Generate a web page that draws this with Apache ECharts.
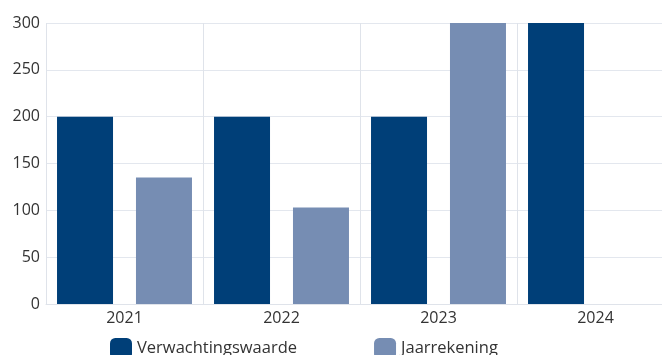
<!DOCTYPE html>
<html>
<head>
<meta charset="utf-8">
<script src="https://cdn.jsdelivr.net/npm/echarts@6/dist/echarts.min.js"></script>
<style>html,body{margin:0;padding:0;background:#fff;overflow:hidden;width:662px;height:355px;}#c{width:674px;height:355px;}</style>
</head>
<body>
<div id="c"></div>
<script>
const categories = ['2021', '2022', '2023', '2024'];
const verwachtingswaarde = [200, 200, 200, 300];
const jaarrekening = [135, 103, 300, null];
const yTicks = [0, 50, 100, 150, 200, 250, 300];

const chart = echarts.init(document.getElementById('c'));
const font = '"Open Sans", "Noto Sans", sans-serif';
chart.setOption({
  animation: false,
  textStyle: { fontFamily: font },
  grid: { left: 46, top: 23, right: 0, bottom: 51, containLabel: false },
  legend: {
    left: 105, top: 333,
    itemWidth: 22, itemHeight: 21, itemGap: 77,
    icon: 'roundRect',
    textStyle: { fontSize: 16.5, color: '#333', fontFamily: font },
    data: ['Verwachtingswaarde', 'Jaarrekening']
  },
  xAxis: {
    type: 'category', data: categories,
    axisLine: { lineStyle: { color: '#dfe3ea' } },
    axisTick: { show: false },
    splitLine: { show: true, lineStyle: { color: '#dfe3ea' } },
    axisLabel: { fontSize: 16, color: '#333', margin: 6, fontFamily: font }
  },
  yAxis: {
    type: 'value', min: yTicks[0], max: yTicks[yTicks.length - 1], interval: 50,
    axisLine: { show: false }, axisTick: { show: false },
    splitLine: { lineStyle: { color: '#e3e7ee' } },
    axisLabel: { fontSize: 16, color: '#333', margin: 6, fontFamily: font }
  },
  series: [
    { name: 'Verwachtingswaarde', type: 'bar', data: verwachtingswaarde, barWidth: 56, barGap: '41%',
      itemStyle: { color: '#003f78' } },
    { name: 'Jaarrekening', type: 'bar', data: jaarrekening, barWidth: 56,
      itemStyle: { color: '#768db3' } }
  ]
});
</script>
</body>
</html>
